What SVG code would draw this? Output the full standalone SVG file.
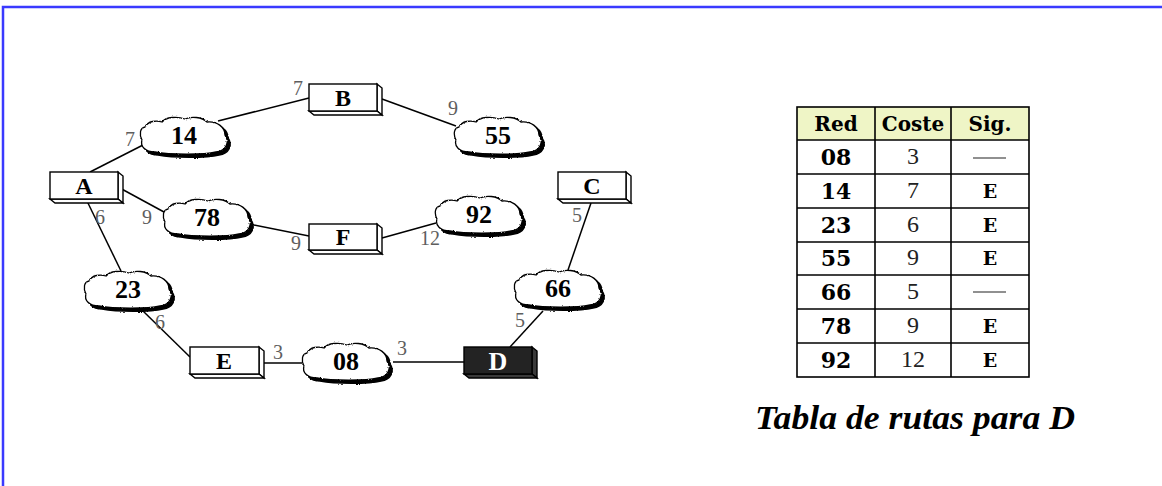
<svg xmlns="http://www.w3.org/2000/svg" width="1162" height="486" viewBox="0 0 1162 486">
  <defs>
    <style>
      .frame { fill: none; stroke: #3a3aff; stroke-width: 2.5; }
      .link { stroke: #000; stroke-width: 1.5; fill: none; }
      .face { fill: #fff; stroke: #000; stroke-width: 1.4; }
      .face-dark { fill: #232323; stroke: #000; stroke-width: 1.4; }
      .side-dark { fill: #3a3a3a; stroke: #000; stroke-width: 1.4; }
      .node-label { font-family: "Liberation Serif", "Times New Roman", serif; font-weight: bold; font-size: 24px; text-anchor: middle; fill: #000; }
      .net-label { font-family: "Liberation Serif", "Times New Roman", serif; font-weight: bold; font-size: 26px; text-anchor: middle; fill: #000; }
      .cost { font-family: "Liberation Serif", "Times New Roman", serif; font-size: 20px; text-anchor: middle; fill: #5e5e5e; }
      .th { font-family: "DejaVu Serif", serif; font-weight: bold; font-size: 20px; text-anchor: middle; fill: #000; }
      .td-b { font-family: "DejaVu Serif", serif; font-weight: bold; font-size: 22px; text-anchor: middle; fill: #000; }
      .td { font-family: "Liberation Serif", serif; font-size: 24px; text-anchor: middle; fill: #222; }
      .td-e { font-family: "DejaVu Serif", serif; font-weight: bold; font-size: 19px; text-anchor: middle; fill: #000; }
      .grid { stroke: #000; stroke-width: 1.6; fill: none; }
      .title { font-family: "Liberation Serif", "Times New Roman", serif; font-weight: bold; font-style: italic; font-size: 33px; fill: #000; }
    </style>
    <filter id="rough" x="-10%" y="-15%" width="120%" height="130%">
      <feTurbulence type="fractalNoise" baseFrequency="0.6" numOctaves="1" seed="3" result="noise"/>
      <feDisplacementMap in="SourceGraphic" in2="noise" scale="2.5" xChannelSelector="R" yChannelSelector="G"/>
    </filter>
    <!-- cloud outline, local box about 88x40 -->
    <path id="cloudShape" d="M 5,12 C 8,6 16,5 22,7 C 26,2 37,1 45,4 C 51,1 62,2 67,7 C 77,6 85,12 85,20 C 90,27 86,36 76,37 C 64,40 30,40 15,37 C 5,37 0,31 2,25 C -1,19 0,13 5,12 Z"/>
    <g id="cloud" filter="url(#rough)">
      <use href="#cloudShape" transform="translate(3,3)" fill="#000" stroke="#000" stroke-width="1.5"/>
      <use href="#cloudShape" fill="#fff" stroke="#000" stroke-width="1.3"/>
    </g>
  </defs>

  <rect width="1162" height="486" fill="#fff"/>
  <rect class="frame" x="3" y="7" width="1200" height="600"/>

  <!-- links between routers and networks -->
  <g id="connectors">
    <line class="link" x1="90" y1="172" x2="145" y2="144"/>
    <line class="link" x1="218" y1="121" x2="309" y2="98"/>
    <line class="link" x1="382" y1="99" x2="456" y2="126"/>
    <line class="link" x1="118" y1="187" x2="164" y2="212"/>
    <line class="link" x1="254" y1="225" x2="309" y2="236"/>
    <line class="link" x1="382" y1="238" x2="436" y2="223"/>
    <line class="link" x1="86" y1="199" x2="121" y2="271"/>
    <line class="link" x1="143" y1="311" x2="190" y2="357"/>
    <line class="link" x1="264" y1="363" x2="302" y2="363"/>
    <line class="link" x1="393" y1="362" x2="464" y2="362"/>
    <line class="link" x1="510" y1="347" x2="543" y2="311"/>
    <line class="link" x1="591" y1="203" x2="568" y2="270"/>

    <text class="cost" x="298" y="95">7</text>
    <text class="cost" x="130" y="146">7</text>
    <text class="cost" x="453" y="115">9</text>
    <text class="cost" x="147" y="224">9</text>
    <text class="cost" x="100" y="224">6</text>
    <text class="cost" x="296" y="250">9</text>
    <text class="cost" x="430" y="245">12</text>
    <text class="cost" x="577" y="222">5</text>
    <text class="cost" x="160" y="329">6</text>
    <text class="cost" x="278" y="359">3</text>
    <text class="cost" x="402" y="355">3</text>
    <text class="cost" x="520" y="327">5</text>
  </g>

  <!-- routers: front face plus right and bottom faces -->
  <g id="router-A">
    <polygon class="face" points="118,172 123,176 123,203 118,199"/>
    <polygon class="face" points="50,199 118,199 123,203 55,203"/>
    <rect class="face" x="50" y="172" width="68" height="27"/>
    <text class="node-label" x="84" y="194">A</text>
  </g>
  <g id="router-B">
    <polygon class="face" points="377,84 382,88 382,115 377,111"/>
    <polygon class="face" points="309,111 377,111 382,115 314,115"/>
    <rect class="face" x="309" y="84" width="68" height="27"/>
    <text class="node-label" x="343" y="106">B</text>
  </g>
  <g id="router-C">
    <polygon class="face" points="626,172 631,176 631,203 626,199"/>
    <polygon class="face" points="558,199 626,199 631,203 563,203"/>
    <rect class="face" x="558" y="172" width="68" height="27"/>
    <text class="node-label" x="592" y="194">C</text>
  </g>
  <g id="router-F">
    <polygon class="face" points="377,224 382,228 382,254 377,250"/>
    <polygon class="face" points="309,250 377,250 382,254 314,254"/>
    <rect class="face" x="309" y="224" width="68" height="26"/>
    <text class="node-label" x="343" y="245">F</text>
  </g>
  <g id="router-E">
    <polygon class="face" points="259,347 264,351 264,378 259,374"/>
    <polygon class="face" points="190,374 259,374 264,378 195,378"/>
    <rect class="face" x="190" y="347" width="69" height="27"/>
    <text class="node-label" x="224" y="369">E</text>
  </g>
  <g id="router-D">
    <polygon class="side-dark" points="532,347 537,351 537,378 532,374"/>
    <polygon class="side-dark" points="464,374 532,374 537,378 469,378"/>
    <rect class="face-dark" x="464" y="347" width="68" height="27"/>
    <text class="node-label" x="498" y="370" style="fill:#fff;font-size:26px">D</text>
  </g>

  <!-- networks -->
  <g id="net-14">
    <use href="#cloud" x="140" y="115"/>
    <text class="net-label" x="184" y="144">14</text>
  </g>
  <g id="net-55">
    <use href="#cloud" x="454" y="115"/>
    <text class="net-label" x="498" y="144">55</text>
  </g>
  <g id="net-78">
    <use href="#cloud" x="163" y="197"/>
    <text class="net-label" x="207" y="226">78</text>
  </g>
  <g id="net-92">
    <use href="#cloud" x="435" y="194"/>
    <text class="net-label" x="479" y="223">92</text>
  </g>
  <g id="net-23">
    <use href="#cloud" x="84" y="269"/>
    <text class="net-label" x="128" y="298">23</text>
  </g>
  <g id="net-08">
    <use href="#cloud" x="302" y="341"/>
    <text class="net-label" x="346" y="370">08</text>
  </g>
  <g id="net-66">
    <use href="#cloud" x="514" y="268"/>
    <text class="net-label" x="558" y="297">66</text>
  </g>

  <!-- routing table of D -->
  <g id="routing-table">
    <rect x="797" y="107" width="232" height="33" fill="#eff5c6"/>
    <rect class="grid" x="797" y="107" width="232" height="270" stroke-width="2"/>
    <line class="grid" x1="875" y1="107" x2="875" y2="377"/>
    <line class="grid" x1="951" y1="107" x2="951" y2="377" stroke-width="3"/>
    <line class="grid" x1="797" y1="140" x2="1029" y2="140"/>
    <line class="grid" x1="797" y1="174" x2="1029" y2="174"/>
    <line class="grid" x1="797" y1="208" x2="1029" y2="208"/>
    <line class="grid" x1="797" y1="242" x2="1029" y2="242"/>
    <line class="grid" x1="797" y1="275" x2="1029" y2="275"/>
    <line class="grid" x1="797" y1="309" x2="1029" y2="309"/>
    <line class="grid" x1="797" y1="343" x2="1029" y2="343"/>

    <text class="th" x="836" y="131">Red</text>
    <text class="th" x="913" y="131">Coste</text>
    <text class="th" x="990" y="131">Sig.</text>

    <text class="td-b" x="836" y="165">08</text>
    <text class="td" x="913" y="164">3</text>
    <line x1="973" y1="158" x2="1006" y2="158" stroke="#222" stroke-width="1.2"/>

    <text class="td-b" x="836" y="199">14</text>
    <text class="td" x="913" y="198">7</text>
    <text class="td-e" x="990" y="198">E</text>

    <text class="td-b" x="836" y="233">23</text>
    <text class="td" x="913" y="232">6</text>
    <text class="td-e" x="990" y="232">E</text>

    <text class="td-b" x="836" y="266">55</text>
    <text class="td" x="913" y="265">9</text>
    <text class="td-e" x="990" y="265">E</text>

    <text class="td-b" x="836" y="300">66</text>
    <text class="td" x="913" y="299">5</text>
    <line x1="973" y1="292" x2="1006" y2="292" stroke="#222" stroke-width="1.2"/>

    <text class="td-b" x="836" y="334">78</text>
    <text class="td" x="913" y="333">9</text>
    <text class="td-e" x="990" y="333">E</text>

    <text class="td-b" x="836" y="368">92</text>
    <text class="td" x="913" y="367">12</text>
    <text class="td-e" x="990" y="367">E</text>
  </g>

  <text class="title" x="755" y="429" textLength="320" lengthAdjust="spacingAndGlyphs">Tabla de rutas para D</text>
</svg>
